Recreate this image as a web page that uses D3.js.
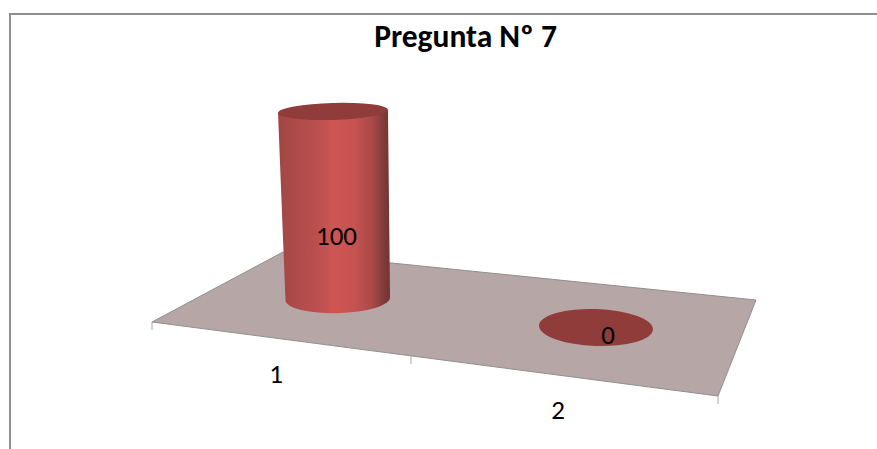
<!DOCTYPE html>
<html><head><meta charset="utf-8">
<script src="https://cdn.jsdelivr.net/npm/d3@7"></script>
<style>html,body{margin:0;padding:0;background:#fff}svg{display:block}text{font-family:Carlito,Calibri,Lato,"Open Sans","Noto Sans",sans-serif;fill:#000}</style>
</head><body><div id="c"></div>
<script>
const categories = ["1","2"];
const values = [100,0];
const titleMain = "Pregunta N";
const titleSuffix = "º 7";

const W=877,H=449;
const svg=d3.select("#c").append("svg").attr("width",W).attr("height",H);
const defs=svg.append("defs");
const grad=defs.append("linearGradient").attr("id","cyl").attr("x1","0").attr("x2","1").attr("y1","0").attr("y2","0");
[[0,"#a04644"],[0.12,"#ab4a48"],[0.35,"#bb504e"],[0.5,"#cd5654"],[0.68,"#c65351"],[0.84,"#a94a48"],[0.95,"#7e3a38"],[1,"#733432"]]
 .forEach(s=>grad.append("stop").attr("offset",s[0]).attr("stop-color",s[1]));

// frame
svg.append("path").attr("d","M10 449V14H877").attr("fill","none").attr("stroke","#8f8f8f").attr("stroke-width",2);

// perspective scales
const tickIndex=[0,1,2];
const edgeX=d3.scaleLinear().domain([0,1,2]).range([152,411,718]);
const edgeY=d3.scaleLinear().domain([0,1,2]).range([322,356,396]);
const baseX=d3.scalePoint().domain(categories).range([337.75,596]);
const baseY=d3.scalePoint().domain(categories).range([298.85,327.5]);
const labelX=d3.scalePoint().domain(categories).range([276,558]);
const labelY=d3.scalePoint().domain(categories).range([383,419]);
const h=d3.scaleLinear().domain([0,100]).range([0,187.4]);
const lean=d3.scaleLinear().domain([0,100]).range([0,-4.75]);
const baseRx=d3.scaleOrdinal().domain(categories).range([52.3,57]);
const baseRy=d3.scaleOrdinal().domain(categories).range([14.3,18.5]);
const tilt=d3.scaleOrdinal().domain(categories).range([-1.6,2]);
const topRx=d3.scaleLinear().domain([0,100]).range([0,2.7]);
const topRy=d3.scaleLinear().domain([0,100]).range([0,-5.8]);

// floor
svg.append("path")
 .attr("d",`M${edgeX(0)} ${edgeY(0)}L283 252L756 300L${edgeX(2)} ${edgeY(2)}Z`)
 .attr("fill","#b7a6a6").attr("stroke","#8f8f8f").attr("stroke-width",1).attr("stroke-linejoin","round");
svg.selectAll(".tick").data(tickIndex).join("line").attr("class","tick")
 .attr("x1",edgeX).attr("x2",edgeX).attr("y1",edgeY).attr("y2",d=>edgeY(d)+8)
 .attr("stroke","#a6a6a6").attr("stroke-width",1);

// cylinders
const rows=categories.map((c,i)=>({c,v:values[i]}));
const g=svg.selectAll(".bar").data(rows).join("g").attr("class","bar");
g.filter(d=>d.v>0).append("path").attr("fill","url(#cyl)").attr("d",d=>{
  const x=baseX(d.c),y=baseY(d.c),rx=baseRx(d.c),ry=baseRy(d.c),t=tilt(d.c);
  const a=t*Math.PI/180,c=Math.cos(a),s=Math.sin(a);
  const tx=x+lean(d.v),ty=y-h(d.v),trx=rx+topRx(d.v);
  return `M${tx-trx*c} ${ty-trx*s}L${x-rx*c} ${y-rx*s}A${rx} ${ry} ${t} 0 0 ${x+rx*c} ${y+rx*s}L${tx+trx*c} ${ty+trx*s}Z`;
});
g.append("ellipse")
 .attr("rx",d=>baseRx(d.c)+topRx(d.v))
 .attr("ry",d=>baseRy(d.c)+topRy(d.v))
 .attr("transform",d=>`translate(${baseX(d.c)+lean(d.v)},${baseY(d.c)-h(d.v)}) rotate(${tilt(d.c)})`)
 .attr("fill","#8f3c3a");

// value labels
const valX=d3.scaleOrdinal().domain(categories).range([336.5,608]);
const valY=d3.scaleOrdinal().domain(categories).range([244.5,343.5]);
svg.selectAll(".val").data(rows).join("text").attr("class","val")
 .attr("x",d=>valX(d.c)).attr("y",d=>valY(d.c)).attr("text-anchor","middle")
 .attr("font-size",27).text(d=>d.v);

// category labels
svg.selectAll(".cat").data(categories).join("text").attr("class","cat")
 .attr("x",d=>labelX(d)).attr("y",d=>labelY(d)).attr("text-anchor","middle")
 .attr("font-size",27).text(d=>d);

// title
svg.append("text").attr("x",465.5).attr("y",47).attr("text-anchor","middle")
 .attr("font-size",31.5).attr("font-weight","bold").text(titleMain+titleSuffix);
</script></body></html>
